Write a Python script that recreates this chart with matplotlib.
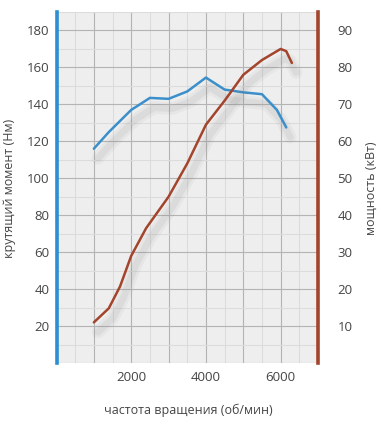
import matplotlib
matplotlib.use("Agg")
import matplotlib.pyplot as plt
import matplotlib.patheffects as pe
from matplotlib.ticker import MultipleLocator

plt.rcParams['font.family'] = ['Open Sans', 'DejaVu Sans']

rpm_torque = [1000, 1400, 2000, 2500, 3000, 3500, 4000, 4500, 5000, 5500, 5900, 6150]
torque_nm = [116, 125, 137, 143.5, 143, 147, 154.5, 148, 146.5, 145.5, 137, 127.5]

rpm_power = [1000, 1400, 1700, 2000, 2400, 3000, 3500, 4000, 4500, 5000, 5500, 6000, 6150, 6300]
power_kw = [11, 14.8, 20.7, 29, 36.5, 45, 54, 64.5, 71, 78, 82, 85, 84.4, 81.2]

x_ticks = [2000, 4000, 6000]
torque_ticks = [20, 40, 60, 80, 100, 120, 140, 160, 180]
power_ticks = [10, 20, 30, 40, 50, 60, 70, 80, 90]

W, H = 381, 425
fig = plt.figure(figsize=(W / 100, H / 100), dpi=100)
x0, x1, y0, y1 = 56.5, 318, 12, 363
ax = fig.add_axes([x0 / W, 1 - y1 / H, (x1 - x0) / W, (y1 - y0) / H])
ax.set_facecolor('#eeeeee')
ax.set_xlim(0, 7000)
ax.set_ylim(0, 190)

ax.xaxis.set_minor_locator(MultipleLocator(500))
ax.yaxis.set_minor_locator(MultipleLocator(10))
ax.grid(which='major', color='#b4b4b4', lw=0.8)
ax.grid(which='minor', color='#dcdcdc', lw=0.8)
ax.set_axisbelow(True)

ax.set_xticks(list(range(0, 7001, 1000)))
ax.set_xticklabels(['' if v not in x_ticks else str(v) for v in range(0, 7001, 1000)])
ax.set_yticks(list(range(0, 191, 20)))
ax.set_yticklabels(['' if v not in torque_ticks else str(v) for v in range(0, 191, 20)])
ax.tick_params(which='both', length=0, labelsize=9.5, colors='#444444')
ax.tick_params(axis='x', pad=6)
ax.tick_params(axis='y', pad=5)

for s in ['top', 'bottom', 'right']:
    ax.spines[s].set_visible(False)
ax.spines['left'].set_color('#2b8fd1')
ax.spines['left'].set_linewidth(2.6)

shadow = [pe.SimpleLineShadow(offset=(3, -7), shadow_color='#808080', alpha=0.07, linewidth=9),
          pe.SimpleLineShadow(offset=(3, -7), shadow_color='#808080', alpha=0.10, linewidth=5),
          pe.Normal()]

ax.plot(rpm_torque, torque_nm, color='#3b8fca', lw=1.8, solid_capstyle='round',
        path_effects=shadow, zorder=3)

ax2 = ax.twinx()
ax2.set_ylim(0, 95)
ax2.set_yticks(list(range(0, 96, 10)))
ax2.set_yticklabels(['' if v not in power_ticks else str(v) for v in range(0, 96, 10)])
ax2.tick_params(length=0, labelsize=9.5, colors='#444444', pad=14)
for s in ['top', 'bottom', 'left']:
    ax2.spines[s].set_visible(False)
ax2.spines['right'].set_color('#a3442c')
ax2.spines['right'].set_linewidth(2.6)
ax2.plot(rpm_power, power_kw, color='#a3442c', lw=1.8, solid_capstyle='round',
         path_effects=shadow, zorder=3)

fig.text(10 / W, 1 - 188 / H, 'крутящий момент (Нм)', rotation=90, ha='center', va='center',
         fontsize=9, color='#444444')
fig.text(371 / W, 1 - 188 / H, 'мощность (кВт)', rotation=90, ha='center', va='center',
         fontsize=9, color='#444444')
fig.text(188 / W, 1 - 410 / H, 'частота вращения (об/мин)', ha='center', va='center',
         fontsize=9, color='#444444')

fig.savefig('out.png', dpi=100, facecolor='white')
